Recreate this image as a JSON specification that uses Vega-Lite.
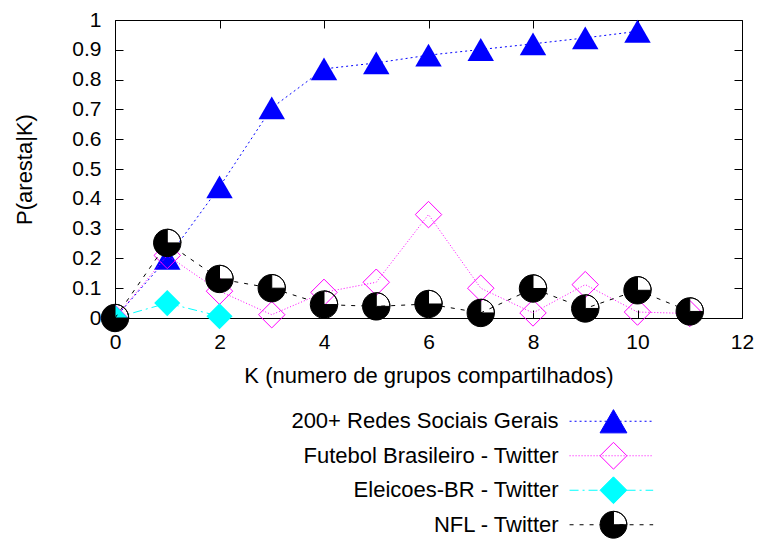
{
  "$schema": "https://vega.github.io/schema/vega-lite/v6.json",
  "background": "white",
  "padding": {"left": 13, "top": 8, "right": 0, "bottom": 0},
  "spacing": 17,
  "config": {
    "font": "Liberation Sans",
    "view": {"stroke": null},
    "axis": {
      "domain": false, "grid": false, "tickColor": "black", "tickWidth": 1,
      "labelColor": "black", "labelFont": "Liberation Sans", "labelFontSize": 21,
      "titleColor": "black", "titleFont": "Liberation Sans", "titleFontSize": 22, "titleFontWeight": "normal",
      "labelFlush": false, "labelOverlap": false
    }
  },
  "datasets": {
    "pts": [
      {"k": 0, "p": 0, "serie": "200+ Redes Sociais Gerais"},
      {"k": 1, "p": 0.2, "serie": "200+ Redes Sociais Gerais"},
      {"k": 2, "p": 0.44, "serie": "200+ Redes Sociais Gerais"},
      {"k": 3, "p": 0.705, "serie": "200+ Redes Sociais Gerais"},
      {"k": 4, "p": 0.836, "serie": "200+ Redes Sociais Gerais"},
      {"k": 5, "p": 0.856, "serie": "200+ Redes Sociais Gerais"},
      {"k": 6, "p": 0.882, "serie": "200+ Redes Sociais Gerais"},
      {"k": 7, "p": 0.901, "serie": "200+ Redes Sociais Gerais"},
      {"k": 8, "p": 0.92, "serie": "200+ Redes Sociais Gerais"},
      {"k": 9, "p": 0.94, "serie": "200+ Redes Sociais Gerais"},
      {"k": 10, "p": 0.962, "serie": "200+ Redes Sociais Gerais"},
      {"k": 0, "p": 0, "serie": "Futebol Brasileiro - Twitter"},
      {"k": 1, "p": 0.21, "serie": "Futebol Brasileiro - Twitter"},
      {"k": 2, "p": 0.09, "serie": "Futebol Brasileiro - Twitter"},
      {"k": 3, "p": 0.011, "serie": "Futebol Brasileiro - Twitter"},
      {"k": 4, "p": 0.086, "serie": "Futebol Brasileiro - Twitter"},
      {"k": 5, "p": 0.12, "serie": "Futebol Brasileiro - Twitter"},
      {"k": 6, "p": 0.347, "serie": "Futebol Brasileiro - Twitter"},
      {"k": 7, "p": 0.1, "serie": "Futebol Brasileiro - Twitter"},
      {"k": 8, "p": 0.017, "serie": "Futebol Brasileiro - Twitter"},
      {"k": 9, "p": 0.112, "serie": "Futebol Brasileiro - Twitter"},
      {"k": 10, "p": 0.02, "serie": "Futebol Brasileiro - Twitter"},
      {"k": 11, "p": 0.015, "serie": "Futebol Brasileiro - Twitter"},
      {"k": 0, "p": 0, "serie": "Eleicoes-BR - Twitter"},
      {"k": 1, "p": 0.05, "serie": "Eleicoes-BR - Twitter"},
      {"k": 2, "p": 0.006, "serie": "Eleicoes-BR - Twitter"},
      {"k": 0, "p": 0, "serie": "NFL - Twitter"},
      {"k": 1, "p": 0.252, "serie": "NFL - Twitter"},
      {"k": 2, "p": 0.131, "serie": "NFL - Twitter"},
      {"k": 3, "p": 0.1, "serie": "NFL - Twitter"},
      {"k": 4, "p": 0.045, "serie": "NFL - Twitter"},
      {"k": 5, "p": 0.039, "serie": "NFL - Twitter"},
      {"k": 6, "p": 0.047, "serie": "NFL - Twitter"},
      {"k": 7, "p": 0.017, "serie": "NFL - Twitter"},
      {"k": 8, "p": 0.099, "serie": "NFL - Twitter"},
      {"k": 9, "p": 0.032, "serie": "NFL - Twitter"},
      {"k": 10, "p": 0.093, "serie": "NFL - Twitter"},
      {"k": 11, "p": 0.022, "serie": "NFL - Twitter"}
    ],
    "leg": [
      {"serie": "200+ Redes Sociais Gerais"},
      {"serie": "Futebol Brasileiro - Twitter"},
      {"serie": "Eleicoes-BR - Twitter"},
      {"serie": "NFL - Twitter"}
    ]
  },
  "vconcat": [
    {
      "width": 627,
      "height": 298,
      "view": {"stroke": "black", "strokeWidth": 1},
      "data": {"name": "pts"},
      "resolve": {"axis": {"x": "independent", "y": "independent"}},
      "layer": [
        {
          "transform": [{"filter": "datum.serie == '200+ Redes Sociais Gerais'"}],
          "mark": {"type": "line", "color": "#0000ff", "strokeWidth": 1, "strokeDash": [2, 3]},
          "encoding": {
            "x": {"field": "k", "type": "quantitative", "scale": {"domain": [0, 12], "nice": false},
              "axis": {"orient": "bottom", "values": [0, 2, 4, 6, 8, 10, 12], "title": "K (numero de grupos compartilhados)", "tickSize": -8, "labelPadding": 21, "titlePadding": 13}},
            "y": {"field": "p", "type": "quantitative", "scale": {"domain": [0, 1], "nice": false},
              "axis": {"orient": "left", "values": [0, 0.1, 0.2, 0.3, 0.4, 0.5, 0.6, 0.7, 0.8, 0.9, 1], "format": ".1~f", "title": "P(aresta|K)", "tickSize": -8, "labelPadding": 22, "titlePadding": 35}}
          }
        },
        {
          "transform": [{"filter": "datum.serie == '200+ Redes Sociais Gerais' && datum.k > 0"}],
          "mark": {"type": "point", "shape": "triangle-up", "filled": true, "color": "#0000ff", "size": 700, "opacity": 1},
          "encoding": {
            "x": {"field": "k", "type": "quantitative", "axis": null},
            "y": {"field": "p", "type": "quantitative", "axis": null}
          }
        },
        {
          "transform": [{"filter": "datum.serie == 'Futebol Brasileiro - Twitter'"}],
          "mark": {"type": "line", "color": "#ff00ff", "strokeWidth": 1, "strokeDash": [1, 2]},
          "encoding": {
            "x": {"field": "k", "type": "quantitative", "axis": null},
            "y": {"field": "p", "type": "quantitative", "axis": null}
          }
        },
        {
          "transform": [{"filter": "datum.serie == 'Futebol Brasileiro - Twitter'"}],
          "mark": {"type": "point", "shape": "diamond", "filled": false, "color": "#ff00ff", "strokeWidth": 1, "size": 700, "opacity": 1},
          "encoding": {
            "x": {"field": "k", "type": "quantitative", "axis": null},
            "y": {"field": "p", "type": "quantitative", "axis": null}
          }
        },
        {
          "transform": [{"filter": "datum.serie == 'Eleicoes-BR - Twitter'"}],
          "mark": {"type": "line", "color": "#00ffff", "strokeWidth": 1, "strokeDash": [9, 4, 2, 4]},
          "encoding": {
            "x": {"field": "k", "type": "quantitative", "axis": null},
            "y": {"field": "p", "type": "quantitative", "axis": null}
          }
        },
        {
          "transform": [{"filter": "datum.serie == 'Eleicoes-BR - Twitter'"}],
          "mark": {"type": "point", "shape": "diamond", "filled": true, "color": "#00ffff", "size": 680, "opacity": 1},
          "encoding": {
            "x": {"field": "k", "type": "quantitative", "axis": null},
            "y": {"field": "p", "type": "quantitative", "axis": null}
          }
        },
        {
          "transform": [{"filter": "datum.serie == 'NFL - Twitter'"}],
          "mark": {"type": "line", "color": "#000000", "strokeWidth": 1, "strokeDash": [4, 6]},
          "encoding": {
            "x": {"field": "k", "type": "quantitative", "axis": null},
            "y": {"field": "p", "type": "quantitative", "axis": null}
          }
        },
        {
          "transform": [{"filter": "datum.serie == 'NFL - Twitter'"}],
          "mark": {"type": "point", "shape": "M1,0A1,1,0,1,1,-1,0A1,1,0,1,1,1,0ZM0,0L1,0A1,1,0,0,0,0,-1Z", "filled": true, "color": "#000000", "stroke": "#000000", "strokeWidth": 1, "size": 750, "opacity": 1},
          "encoding": {
            "x": {"field": "k", "type": "quantitative",
              "axis": {"orient": "top", "values": [0, 2, 4, 6, 8, 10, 12], "labels": false, "title": null, "tickSize": -8}},
            "y": {"field": "p", "type": "quantitative",
              "axis": {"orient": "right", "values": [0, 0.1, 0.2, 0.3, 0.4, 0.5, 0.6, 0.7, 0.8, 0.9, 1], "labels": false, "title": null, "tickSize": -8}}
          }
        }
      ]
    },
    {
      "width": 627,
      "height": 138,
      "data": {"name": "leg"},
      "encoding": {
        "y": {"field": "serie", "type": "nominal", "axis": null,
          "scale": {"type": "point", "padding": 0.5, "domain": ["200+ Redes Sociais Gerais", "Futebol Brasileiro - Twitter", "Eleicoes-BR - Twitter", "NFL - Twitter"]}}
      },
      "layer": [
        {
          "mark": {"type": "text", "align": "right", "baseline": "middle", "fontSize": 22, "color": "black", "font": "Liberation Sans"},
          "encoding": {
            "x": {"datum": 8.49, "type": "quantitative", "scale": {"domain": [0, 12], "nice": false}, "axis": null},
            "text": {"field": "serie"}
          }
        },
        {
          "mark": {"type": "rule", "strokeWidth": 1},
          "encoding": {
            "x": {"datum": 8.7, "type": "quantitative", "axis": null},
            "x2": {"datum": 10.3},
            "color": {"field": "serie", "type": "nominal", "legend": null,
              "scale": {"domain": ["200+ Redes Sociais Gerais", "Futebol Brasileiro - Twitter", "Eleicoes-BR - Twitter", "NFL - Twitter"], "range": ["#0000ff", "#ff00ff", "#00ffff", "#000000"]}},
            "strokeDash": {"field": "serie", "type": "nominal", "legend": null,
              "scale": {"domain": ["200+ Redes Sociais Gerais", "Futebol Brasileiro - Twitter", "Eleicoes-BR - Twitter", "NFL - Twitter"], "range": [[2, 3], [1, 2], [9, 4, 2, 4], [4, 6]]}}
          }
        },
        {
          "mark": {"type": "point", "opacity": 1, "strokeWidth": 1, "size": 720},
          "encoding": {
            "x": {"datum": 9.54, "type": "quantitative", "axis": null},
            "shape": {"field": "serie", "type": "nominal", "legend": null,
              "scale": {"domain": ["200+ Redes Sociais Gerais", "Futebol Brasileiro - Twitter", "Eleicoes-BR - Twitter", "NFL - Twitter"], "range": ["triangle-up", "diamond", "diamond", "M1,0A1,1,0,1,1,-1,0A1,1,0,1,1,1,0ZM0,0L1,0A1,1,0,0,0,0,-1Z"]}},
            "fill": {"field": "serie", "type": "nominal", "legend": null,
              "scale": {"domain": ["200+ Redes Sociais Gerais", "Futebol Brasileiro - Twitter", "Eleicoes-BR - Twitter", "NFL - Twitter"], "range": ["#0000ff", "transparent", "#00ffff", "#000000"]}},
            "stroke": {"field": "serie", "type": "nominal", "legend": null,
              "scale": {"domain": ["200+ Redes Sociais Gerais", "Futebol Brasileiro - Twitter", "Eleicoes-BR - Twitter", "NFL - Twitter"], "range": ["#0000ff", "#ff00ff", "#00ffff", "#000000"]}}
          }
        }
      ]
    }
  ]
}
